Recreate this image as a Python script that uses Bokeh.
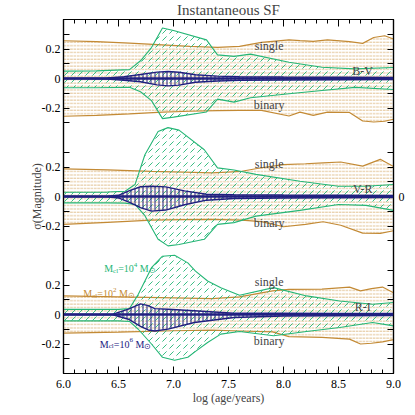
from bokeh.plotting import figure
from bokeh.models import Range1d, LinearAxis, FixedTicker, Label, ColumnDataSource, Span
from bokeh.embed import file_html
from bokeh.resources import INLINE

FONT = "Liberation Serif"
ORANGE = "#c38a35"
ORANGE_FILL = "#cf9a4c"
GREEN = "#25b676"
NAVY = "#202080"

# ---------------- data ----------------
panel_names = ["B-V", "V-R", "R-I"]
panel_offsets = [1.6, 0.8, 0.0]

x_ticks = [6.0, 6.5, 7.0, 7.5, 8.0, 8.5, 9.0]
x_tick_labels = ["6.0", "6.5", "7.0", "7.5", "8.0", "8.5", "9.0"]
y_ticks_rel = [-0.3, -0.2, -0.1, 0.0, 0.1, 0.2, 0.3]
y_tick_labels = ["", "-0.2", "", "0", "", "0.2", ""]

# B-V, M_cl = 10^2
bv_m2_x = [6.0, 6.3, 6.6, 6.9, 7.15, 7.4, 7.6, 7.8, 8.05, 8.15, 8.27, 8.4, 8.6, 8.72, 8.82, 8.92, 9.0]
bv_m2_single = [0.256, 0.250, 0.240, 0.228, 0.218, 0.211, 0.218, 0.245, 0.262, 0.257, 0.252, 0.262, 0.250, 0.238, 0.278, 0.290, 0.268]
bv_m2_binary = [-0.256, -0.250, -0.240, -0.228, -0.222, -0.218, -0.216, -0.216, -0.254, -0.228, -0.250, -0.228, -0.230, -0.288, -0.295, -0.290, -0.276]
# B-V, M_cl = 10^4
bv_m4_x = [6.0, 6.3, 6.6, 6.7, 6.8, 6.9, 7.0, 7.3, 7.4, 7.55, 7.7, 8.05, 8.35, 8.65, 9.0]
bv_m4_single = [0.050, 0.052, 0.060, 0.120, 0.210, 0.342, 0.325, 0.262, 0.160, 0.150, 0.165, 0.110, 0.076, 0.065, 0.075]
bv_m4_binary = [-0.063, -0.063, -0.060, -0.090, -0.150, -0.272, -0.262, -0.227, -0.140, -0.160, -0.130, -0.103, -0.081, -0.060, -0.075]
# B-V, M_cl = 10^6
bv_m6_x = [6.0, 6.4, 6.55, 6.7, 6.85, 6.95, 7.05, 7.2, 7.4, 7.6, 8.0, 8.5, 9.0]
bv_m6_single = [0.0, 0.003, 0.012, 0.027, 0.043, 0.047, 0.042, 0.025, 0.016, 0.012, 0.010, 0.008, 0.007]
bv_m6_binary = [0.0, -0.003, -0.012, -0.022, -0.043, -0.050, -0.045, -0.025, -0.017, -0.013, -0.010, -0.008, -0.007]

# V-R, M_cl = 10^2
vr_m2_x = [6.0, 6.4, 6.8, 7.1, 7.35, 7.62, 7.8, 8.0, 8.2, 8.36, 8.52, 8.72, 8.88, 9.0]
vr_m2_single = [0.187, 0.180, 0.170, 0.165, 0.160, 0.171, 0.195, 0.216, 0.222, 0.228, 0.234, 0.206, 0.252, 0.204]
vr_m2_binary = [-0.189, -0.175, -0.160, -0.157, -0.155, -0.160, -0.170, -0.205, -0.189, -0.171, -0.195, -0.248, -0.250, -0.232]
# V-R, M_cl = 10^4
vr_m4_x = [6.0, 6.4, 6.56, 6.65, 6.74, 6.86, 6.95, 7.05, 7.28, 7.4, 7.55, 7.75, 8.15, 8.5, 8.75, 9.0]
vr_m4_single = [0.029, 0.030, 0.036, 0.081, 0.283, 0.440, 0.467, 0.450, 0.317, 0.194, 0.180, 0.150, 0.103, 0.069, 0.070, 0.081]
vr_m4_binary = [-0.043, -0.043, -0.045, -0.054, -0.130, -0.290, -0.335, -0.325, -0.290, -0.189, -0.177, -0.133, -0.094, -0.054, -0.060, -0.094]
# V-R, M_cl = 10^6
vr_m6_x = [6.0, 6.4, 6.5, 6.6, 6.7, 6.8, 6.93, 7.1, 7.3, 7.55, 8.0, 8.5, 9.0]
vr_m6_single = [0.0, 0.002, 0.008, 0.040, 0.066, 0.069, 0.065, 0.038, 0.015, 0.012, 0.010, 0.008, 0.007]
vr_m6_binary = [0.0, -0.002, -0.010, -0.040, -0.075, -0.099, -0.092, -0.056, -0.025, -0.014, -0.010, -0.008, -0.007]

# R-I, M_cl = 10^2
ri_m2_x = [6.0, 6.5, 7.0, 7.35, 7.6, 7.9, 8.05, 8.35, 8.6, 8.7, 8.8, 8.9, 9.0]
ri_m2_single = [0.126, 0.120, 0.113, 0.108, 0.120, 0.160, 0.170, 0.172, 0.186, 0.160, 0.175, 0.186, 0.148]
ri_m2_binary = [-0.126, -0.120, -0.110, -0.106, -0.112, -0.118, -0.150, -0.155, -0.167, -0.200, -0.195, -0.185, -0.170]
# R-I, M_cl = 10^4
ri_m4_x = [6.0, 6.5, 6.6, 6.68, 6.8, 6.9, 7.01, 7.13, 7.2, 7.31, 7.43, 7.6, 7.91, 8.21, 8.51, 8.81, 9.0]
ri_m4_single = [0.035, 0.035, 0.040, 0.137, 0.317, 0.395, 0.402, 0.350, 0.294, 0.227, 0.182, 0.130, 0.182, 0.126, 0.092, 0.069, 0.081]
ri_m4_binary = [-0.043, -0.043, -0.047, -0.100, -0.200, -0.290, -0.310, -0.290, -0.250, -0.190, -0.133, -0.115, -0.144, -0.115, -0.088, -0.054, -0.077]
# R-I, M_cl = 10^6
ri_m6_x = [6.0, 6.45, 6.59, 6.7, 6.77, 6.83, 6.95, 7.19, 7.55, 8.0, 8.5, 9.0]
ri_m6_single = [0.0, 0.002, 0.036, 0.072, 0.060, 0.040, 0.036, 0.025, 0.008, 0.008, 0.007, 0.007]
ri_m6_binary = [0.0, -0.002, -0.032, -0.080, -0.105, -0.112, -0.099, -0.054, -0.020, -0.010, -0.008, -0.007]

# ---------------- figure ----------------
p = figure(width=415, height=415, output_backend="svg", toolbar_location=None,
           x_range=Range1d(6.0, 9.0), y_range=Range1d(-0.4, 2.0),
           title="Instantaneous SF",
           min_border_left=71, min_border_right=11, min_border_top=27, min_border_bottom=32,
           background_fill_color="white", border_fill_color="white")
p.margin = (-8, 0, 0, -8)
p.title.text_font = FONT
p.title.text_font_size = "15px"
p.title.text_font_style = "normal"
p.title.align = "center"
p.title.standoff = 4
p.title.offset = 0
p.xgrid.visible = False
p.ygrid.visible = False
p.outline_line_color = "black"
p.outline_line_width = 1.2


def band(x, up, dn, off, lcolor, lw, hatch, hcolor, hscale, hweight, halpha):
    src = ColumnDataSource(dict(x=x, up=[v + off for v in up], dn=[v + off for v in dn]))
    p.varea(x="x", y1="dn", y2="up", source=src, fill_color=None,
            hatch_pattern=hatch, hatch_color=hcolor, hatch_scale=hscale,
            hatch_weight=hweight, hatch_alpha=halpha)
    p.line("x", "up", source=src, line_color=lcolor, line_width=lw)
    p.line("x", "dn", source=src, line_color=lcolor, line_width=lw)


m2 = [(bv_m2_x, bv_m2_single, bv_m2_binary), (vr_m2_x, vr_m2_single, vr_m2_binary), (ri_m2_x, ri_m2_single, ri_m2_binary)]
m4 = [(bv_m4_x, bv_m4_single, bv_m4_binary), (vr_m4_x, vr_m4_single, vr_m4_binary), (ri_m4_x, ri_m4_single, ri_m4_binary)]
m6 = [(bv_m6_x, bv_m6_single, bv_m6_binary), (vr_m6_x, vr_m6_single, vr_m6_binary), (ri_m6_x, ri_m6_single, ri_m6_binary)]

for (x, u, d), off in zip(m2, panel_offsets):
    band(x, u, d, off, ORANGE, 1.2, "horizontal_dash", ORANGE_FILL, 3.4, 1, 0.6)
for (x, u, d), off in zip(m4, panel_offsets):
    band(x, u, d, off, GREEN, 1.1, "right_diagonal_dash", GREEN, 7, 1, 0.9)
for (x, u, d), off in zip(m6, panel_offsets):
    band(x, u, d, off, NAVY, 1.4, "vertical_line", NAVY, 4, 1, 1.0)
for off in panel_offsets:
    p.add_layout(Span(location=off, dimension="width", line_color=NAVY, line_width=2.5))

# ---------------- axes ----------------
yt = []
left_over = {}
right_over = {}
for off in panel_offsets:
    for d, lab in zip(y_ticks_rel, y_tick_labels):
        t = round(off + d, 2)
        yt.append(t)
        left_over[t] = lab
        right_over[t] = "0" if (off == 0.8 and lab == "0") else ""
yt = sorted(yt)
minor_x = [round(6.0 + 0.1 * i, 1) for i in range(31)]
x_over = {t: s for t, s in zip(x_ticks, x_tick_labels)}


def style_axis(ax):
    ax.axis_line_width = 1.2
    ax.major_tick_out = 0
    ax.minor_tick_out = 0
    ax.major_label_text_font = FONT
    ax.major_label_text_font_size = "12px"
    ax.major_label_text_color = "black"
    ax.axis_label_text_font = FONT
    ax.axis_label_text_font_size = "12px"
    ax.axis_label_text_font_style = "normal"
    ax.major_tick_line_color = "black"
    ax.minor_tick_line_color = "black"


xa = p.xaxis[0]
xa.ticker = FixedTicker(ticks=x_ticks, minor_ticks=minor_x)
xa.major_label_overrides = x_over
xa.axis_label = "log (age/years)"
style_axis(xa)
xa.major_tick_in = 7
xa.minor_tick_in = 4
xa.major_label_standoff = 6
xa.axis_label_standoff = 0

xt = LinearAxis(ticker=FixedTicker(ticks=x_ticks, minor_ticks=minor_x))
style_axis(xt)
xt.major_tick_in = 7
xt.minor_tick_in = 4
xt.major_label_overrides = {t: "" for t in x_ticks}
xt.major_label_standoff = 0
p.add_layout(xt, "above")

ya = p.yaxis[0]
ya.ticker = FixedTicker(ticks=yt, minor_ticks=[])
ya.major_label_overrides = left_over
ya.axis_label = "σ(Magnitude)"
style_axis(ya)
ya.major_tick_in = 6
ya.minor_tick_in = 0
ya.major_label_standoff = 3
ya.axis_label_standoff = -5

yr = LinearAxis(ticker=FixedTicker(ticks=yt, minor_ticks=[]))
yr.major_label_overrides = right_over
style_axis(yr)
yr.major_tick_in = 6
yr.minor_tick_in = 0
yr.major_label_standoff = 5
p.add_layout(yr, "right")

# ---------------- texts ----------------
for name, off in zip(panel_names, panel_offsets):
    p.add_layout(Label(x=7.87, y=off + 0.22, text="single", text_font=FONT, text_font_size="12px",
                       text_align="center", text_baseline="middle"))
    p.add_layout(Label(x=7.87, y=off - 0.183, text="binary", text_font=FONT, text_font_size="12px",
                       text_align="center", text_baseline="middle"))
    p.add_layout(Label(x=8.72, y=off + 0.05, text=name, text_font=FONT, text_font_size="12px",
                       text_align="center", text_baseline="middle"))

# composite mass labels: M_cl=10^n M_sun
mass_labels = [("4", 6.37, 0.31, GREEN), ("2", 6.18, 0.142, ORANGE), ("6", 6.33, -0.20, NAVY)]
S, s = 10, 7
for expo, lx, ly, col in mass_labels:
    parts = [("M", S, 0, 0.889 * S), ("cl", s, -2, 0.722 * s), ("=10", S, 0, 1.564 * S),
             (expo, s, 4, 0.5 * s + 2.5), ("M", S, 0, 0.889 * S), ("⊙", 8, -2, 8)]
    cur = 0.0
    for txt, size, dy, w in parts:
        p.add_layout(Label(x=lx, y=ly, x_offset=cur, y_offset=dy, text=txt, text_font=FONT,
                           text_font_size=f"{size}px", text_color=col, text_baseline="alphabetic",
                           text_align="left"))
        cur += w

open("out.html", "w").write(file_html(p, INLINE))
